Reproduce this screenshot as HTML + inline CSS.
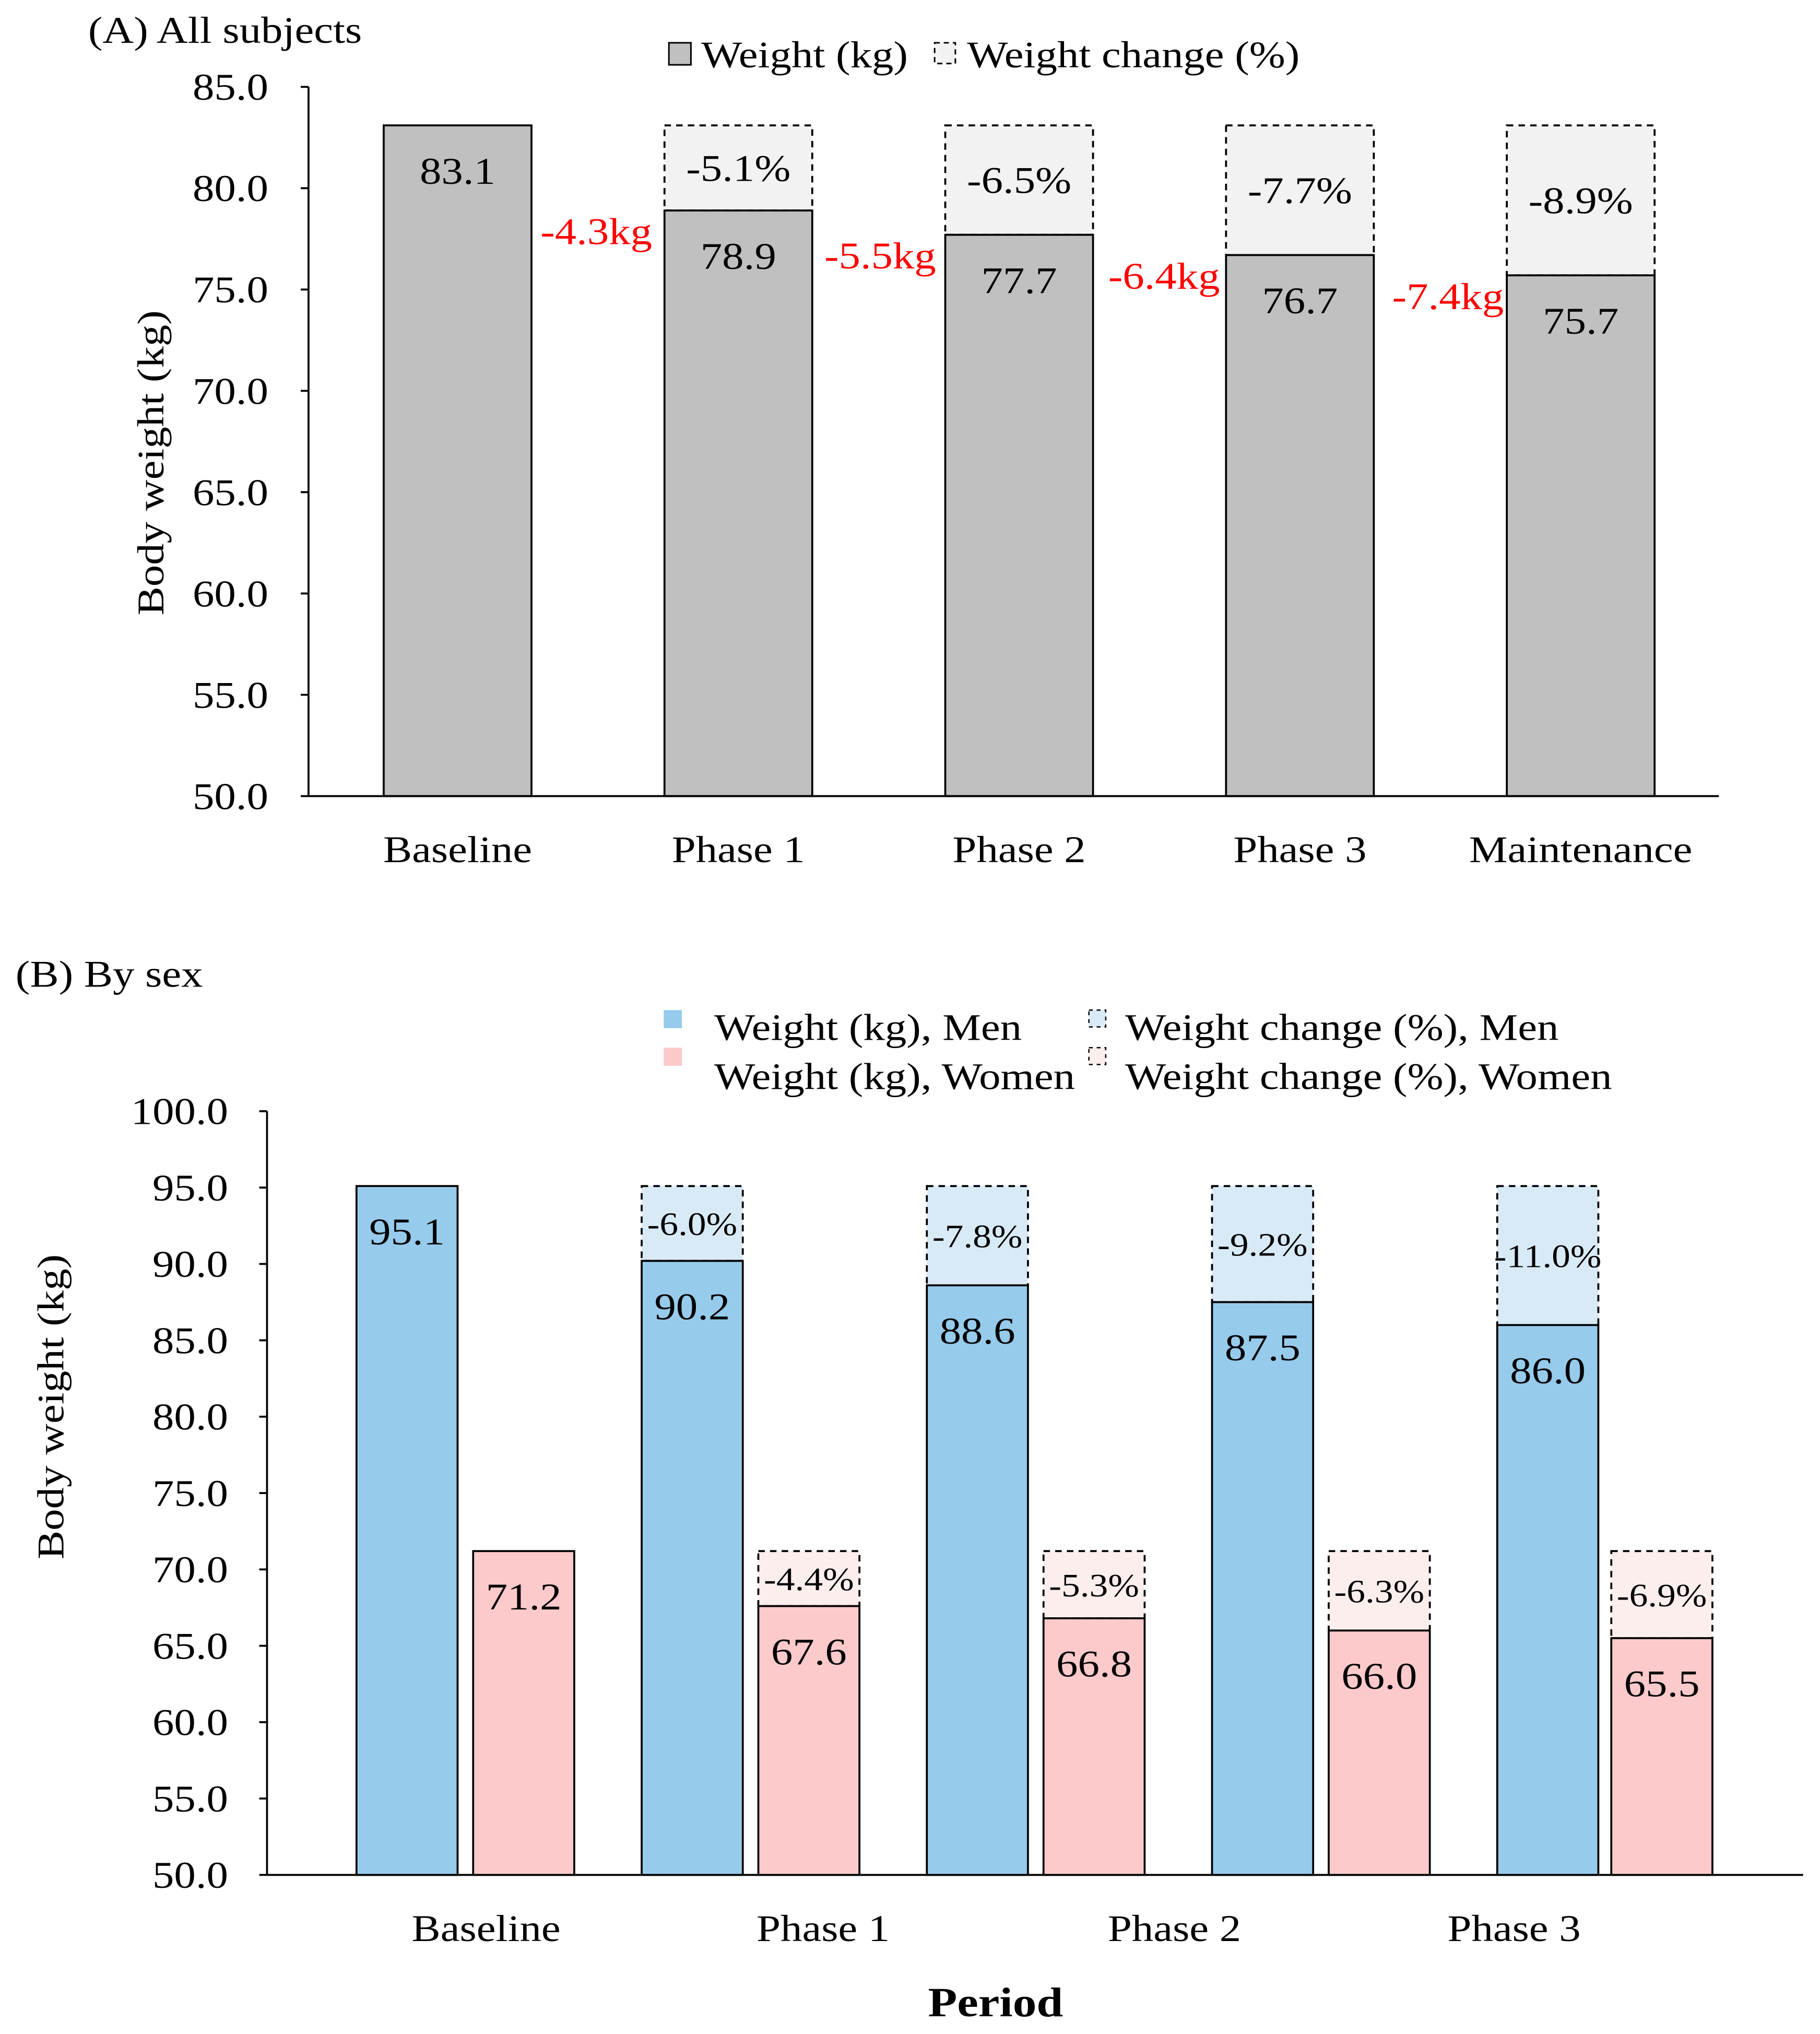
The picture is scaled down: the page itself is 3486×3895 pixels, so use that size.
<!DOCTYPE html>
<html><head><meta charset="utf-8"><style>
html,body{margin:0;padding:0;background:#fff}
svg{display:block}
text{font-family:"Liberation Serif",serif;fill:#000}
</style></head><body>
<svg id="c" xmlns="http://www.w3.org/2000/svg" width="3486" height="3895" viewBox="0 0 1404 1568.7" preserveAspectRatio="none"></svg>
<script>
const catsA=["Baseline","Phase 1","Phase 2","Phase 3","Maintenance"];
const weightA=[83.1,78.9,77.7,76.7,75.7];
const pctA=[null,"-5.1%","-6.5%","-7.7%","-8.9%"];
const lossA=["-4.3kg","-5.5kg","-6.4kg","-7.4kg"];
const ticksA=[50,55,60,65,70,75,80,85];
const catsB=["Baseline","Phase 1","Phase 2","Phase 3"];
const men=[95.1,90.2,88.6,87.5,86.0];
const women=[71.2,67.6,66.8,66.0,65.5];
const pctMen=[null,"-6.0%","-7.8%","-9.2%","-11.0%"];
const pctWomen=[null,"-4.4%","-5.3%","-6.3%","-6.9%"];
const ticksB=[50,55,60,65,70,75,80,85,90,95,100];

const svg=document.getElementById('c');
const NS="http://www.w3.org/2000/svg";
function mk(tag,attrs,txt){const e=document.createElementNS(NS,tag);for(const k in attrs)e.setAttribute(k,attrs[k]);if(txt!=null)e.textContent=txt;svg.appendChild(e);return e;}

// Panel A
const yA=v=>614-(v-50)*(547/35);
const xA0=238,stepA=216.6;
let t=mk('text',{x:68,y:33,'font-size':29},'(A) All subjects');

ticksA.forEach(v=>{
  let e=mk('text',{x:207,y:yA(v)+10,'font-size':29,'text-anchor':'end'},v.toFixed(1));
  
  let l=mk('line',{x1:232,x2:238,y1:yA(v),y2:yA(v),stroke:'#000','stroke-width':1.5});
  
});
t=mk('text',{x:0,y:0,'font-size':29,'text-anchor':'middle',transform:'translate(126,357) rotate(-90)'},'Body weight (kg)');

catsA.forEach((c,i)=>{
  const bx=xA0+58+i*stepA, w=114;
  if(pctA[i]){
    let d=mk('rect',{x:bx,y:yA(weightA[0]),width:w,height:yA(weightA[i])-yA(weightA[0]),fill:'#f2f2f2',stroke:'#000','stroke-width':1.5,'stroke-dasharray':'5,4'});
    
    let p=mk('text',{x:bx+w/2,y:(yA(weightA[0])+yA(weightA[i]))/2+10,'font-size':29,'text-anchor':'middle'},pctA[i]);
    
  }
  let b=mk('rect',{x:bx,y:yA(weightA[i]),width:w,height:yA(50)-yA(weightA[i]),fill:'#c0c0c0',stroke:'#000','stroke-width':1.5});
  
  let v=mk('text',{x:bx+w/2,y:yA(weightA[i])+45,'font-size':29,'text-anchor':'middle'},weightA[i].toFixed(1));
  
  let cl=mk('text',{x:bx+w/2,y:665,'font-size':29,'text-anchor':'middle'},c);
  
});
lossA.forEach((s,i)=>{
  let e=mk('text',{x:460+i*219,y:yA(weightA[i+1])+26,'font-size':29,'text-anchor':'middle',style:'fill:#ff0000'},s);
  
});
let ax=mk('line',{x1:238,x2:238,y1:67,y2:614,stroke:'#000','stroke-width':1.5});

ax=mk('line',{x1:238,x2:1326,y1:614,y2:614,stroke:'#000','stroke-width':1.5});

let r=mk('rect',{x:516,y:33,width:17,height:17,fill:'#c0c0c0',stroke:'#000','stroke-width':1.2});

t=mk('text',{x:541,y:52,'font-size':29},'Weight (kg)');

r=mk('rect',{x:721,y:33,width:16,height:16,fill:'#f2f2f2',stroke:'#000','stroke-width':1.2,'stroke-dasharray':'4,3'});

t=mk('text',{x:746,y:52,'font-size':29},'Weight change (%)');


// Panel B
const yB=v=>1446-(v-50)*(589/50);
t=mk('text',{x:12,y:761,'font-size':29},'(B) By sex');

ticksB.forEach(v=>{
  let e=mk('text',{x:176,y:yB(v)+10,'font-size':29,'text-anchor':'end'},v.toFixed(1));
  
  let l=mk('line',{x1:200,x2:206,y1:yB(v),y2:yB(v),stroke:'#000','stroke-width':1.5});
  
});
t=mk('text',{x:0,y:0,'font-size':29,'text-anchor':'middle',transform:'translate(49,1085) rotate(-90)'},'Body weight (kg)');

function barB(vals,pcts,i,bx,fill,light,who){
  const w=78;
  if(pcts[i]){
    let d=mk('rect',{x:bx,y:yB(vals[0]),width:w,height:yB(vals[i])-yB(vals[0]),fill:light,stroke:'#000','stroke-width':1.5,'stroke-dasharray':'5,4'});
    
    let p=mk('text',{x:bx+w/2,y:(yB(vals[0])+yB(vals[i]))/2+9,'font-size':25,'text-anchor':'middle'},pcts[i]);
    
  }
  let b=mk('rect',{x:bx,y:yB(vals[i]),width:w,height:yB(50)-yB(vals[i]),fill:fill,stroke:'#000','stroke-width':1.5});
  
  let v=mk('text',{x:bx+w/2,y:yB(vals[i])+45,'font-size':29,'text-anchor':'middle'},vals[i].toFixed(1));
  
}
men.forEach((_,i)=>{
  barB(men,pctMen,i,275+i*220,'#97cbec','#d9eaf7','men');
  barB(women,pctWomen,i,365+i*220-(i==4?2:0),'#fdcacb','#fdeeee','women');
});
const labXB=[375,635,906,1168];
catsB.forEach((c,i)=>{
  let cl=mk('text',{x:labXB[i],y:1497,'font-size':29,'text-anchor':'middle'},c);
  
});
ax=mk('line',{x1:206,x2:206,y1:857,y2:1446,stroke:'#000','stroke-width':1.5});

ax=mk('line',{x1:206,x2:1391,y1:1446,y2:1446,stroke:'#000','stroke-width':1.5});

t=mk('text',{x:768,y:1555,'font-size':32,'font-weight':'bold','text-anchor':'middle'},'Period');

r=mk('rect',{x:512,y:779,width:14,height:14,fill:'#97cbec'});

t=mk('text',{x:551,y:802,'font-size':29},'Weight (kg), Men');

r=mk('rect',{x:512,y:808,width:14,height:14,fill:'#fdcacb'});

t=mk('text',{x:551,y:840,'font-size':29},'Weight (kg), Women');

r=mk('rect',{x:840,y:779,width:13,height:13,fill:'#d9eaf7',stroke:'#000','stroke-width':1,'stroke-dasharray':'3,3'});

t=mk('text',{x:868,y:802,'font-size':29},'Weight change (%), Men');

r=mk('rect',{x:840,y:808,width:13,height:13,fill:'#fdeeee',stroke:'#000','stroke-width':1,'stroke-dasharray':'3,3'});

t=mk('text',{x:868,y:840,'font-size':29},'Weight change (%), Women');


// widen glyphs horizontally to match reference font metrics
svg.querySelectorAll('text').forEach(el=>{
  const L=el.getComputedTextLength();
  if(L>0){el.setAttribute('textLength',(L*1.15).toFixed(1));el.setAttribute('lengthAdjust','spacingAndGlyphs');}
});
</script>
</body></html>
